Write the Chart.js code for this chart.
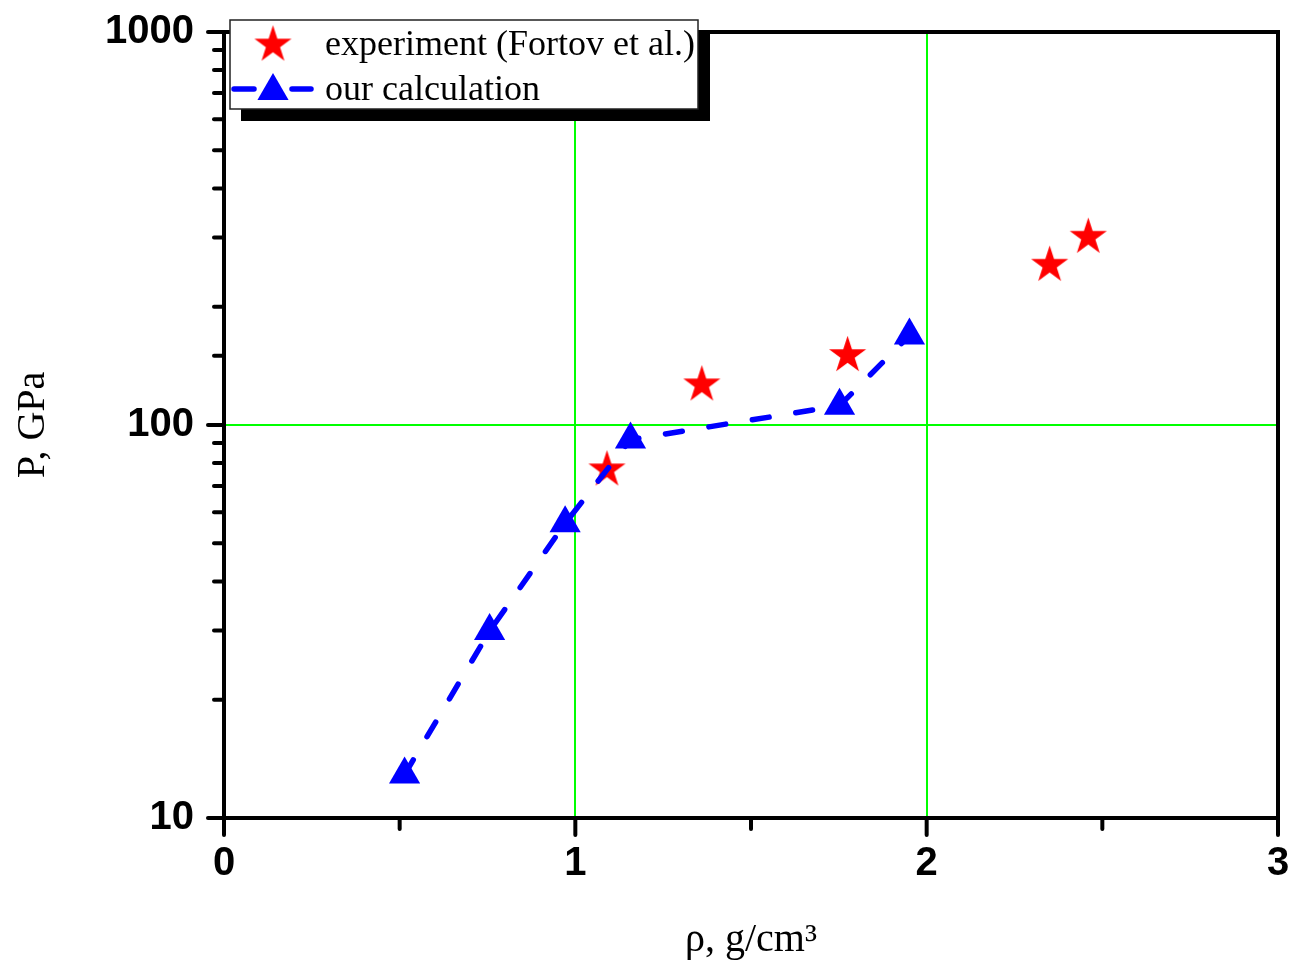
<!DOCTYPE html>
<html>
<head>
<meta charset="utf-8">
<script src="https://cdn.jsdelivr.net/npm/chart.js@4.4.1/dist/chart.umd.min.js"></script>
<style>
    html, body { margin: 0; padding: 0; background: #fff; }
    #wrap { width: 1296px; height: 972px; }
</style>
</head>
<body>
<div id="wrap"><canvas id="chart" width="1296" height="972"></canvas></div>
<script>
// data
const expDensity = [1.09, 1.36, 1.775, 2.35, 2.46];
const expPressure = [77.8, 128, 152, 258, 304];
const calcDensity = [0.514, 0.756, 0.971, 1.157, 1.752, 1.951];
const calcPressure = [12.9, 29.9, 56.2, 91.8, 112, 169];
const xLabelValues = [0, 1, 2, 3];
const yLabelValues = [10, 100, 1000];
const gridX = [1, 2];
const gridY = [100];

const expLabel = "experiment (Fortov et al.)";
const calcLabel = "our calculation";

function toPoints(xs, ys) {
    return xs.map((x, i) => ({ x: x, y: ys[i] }));
}

// filled five-point star used as the experiment marker
function makeStar(r, color) {
    const size = Math.ceil(r * 2) + 4;
    const c = document.createElement("canvas");
    c.width = size;
    c.height = size;
    const g = c.getContext("2d");
    const cx = size / 2;
    const cy = size / 2 + r * 0.0955;
    const inner = r * 0.382;
    g.beginPath();
    for (let i = 0; i < 10; i++) {
        const rad = i % 2 === 0 ? r : inner;
        const a = -Math.PI / 2 + (i * Math.PI) / 5;
        const px = cx + rad * Math.cos(a);
        const py = cy + rad * Math.sin(a);
        if (i === 0) g.moveTo(px, py);
        else g.lineTo(px, py);
    }
    g.closePath();
    g.fillStyle = color;
    g.fill();
    return c;
}

const starImg = makeStar(19.5, "#ff0000");

const frameAndTicks = {
    id: "frameAndTicks",
    afterDatasetsDraw(chart) {
        const { ctx, chartArea: a } = chart;
        ctx.save();
        ctx.strokeStyle = "#000";
        ctx.lineWidth = 4;
        ctx.lineCap = "round";

        const xs = chart.scales.x;
        xs.ticks.forEach((t) => {
            const p = xs.getPixelForValue(t.value);
            const len = t.label !== "" ? 17 : 11;
            ctx.beginPath();
            ctx.moveTo(p, a.bottom);
            ctx.lineTo(p, a.bottom + len);
            ctx.stroke();
        });

        const ys = chart.scales.y;
        ys.ticks.forEach((t) => {
            const p = ys.getPixelForValue(t.value);
            const len = t.label !== "" ? 16 : 10;
            ctx.beginPath();
            ctx.moveTo(a.left, p);
            ctx.lineTo(a.left - len, p);
            ctx.stroke();
        });

        ctx.lineCap = "square";
        ctx.strokeRect(a.left, a.top, a.right - a.left, a.bottom - a.top);
        ctx.restore();
    },
};

const boxLegend = {
    id: "boxLegend",
    afterDraw(chart) {
        const ctx = chart.ctx;
        const bx = 230, by = 20, bw = 468, bh = 89;
        ctx.save();
        ctx.fillStyle = "#000";
        ctx.fillRect(bx + 11, by + 11, bw + 1, bh + 1);
        ctx.fillStyle = "#fff";
        ctx.fillRect(bx, by, bw, bh);
        ctx.strokeStyle = "#222";
        ctx.lineWidth = 1.5;
        ctx.strokeRect(bx, by, bw, bh);

        ctx.drawImage(starImg, 273 - starImg.width / 2, 43 - starImg.height / 2);

        ctx.strokeStyle = "#0000ff";
        ctx.lineWidth = 5.5;
        ctx.lineCap = "round";
        ctx.beginPath();
        ctx.moveTo(234, 89);
        ctx.lineTo(254, 89);
        ctx.moveTo(292, 89);
        ctx.lineTo(311, 89);
        ctx.stroke();

        const r = 18, tx = 273, ty = 91;
        ctx.fillStyle = "#0000ff";
        ctx.beginPath();
        ctx.moveTo(tx, ty - r);
        ctx.lineTo(tx + r * Math.sin(Math.PI / 3), ty + r / 2);
        ctx.lineTo(tx - r * Math.sin(Math.PI / 3), ty + r / 2);
        ctx.closePath();
        ctx.fill();

        ctx.fillStyle = "#000";
        ctx.font = '36px "Liberation Serif", "Times New Roman", serif';
        ctx.textBaseline = "alphabetic";
        ctx.fillText(chart.data.datasets[0].label, 325, 55);
        ctx.fillText(chart.data.datasets[1].label, 325, 100);
        ctx.restore();
    },
};

const tickFont = { family: '"Liberation Sans", Arial, sans-serif', size: 40, weight: "bold" };
const titleFont = { family: '"Liberation Serif", "Times New Roman", serif', size: 40 };

new Chart(document.getElementById("chart"), {
    type: "scatter",
    data: {
        datasets: [
            {
                label: expLabel,
                data: toPoints(expDensity, expPressure),
                showLine: false,
                pointStyle: starImg,
                order: 2,
            },
            {
                label: calcLabel,
                data: toPoints(calcDensity, calcPressure),
                showLine: true,
                borderColor: "#0000ff",
                borderWidth: 5.5,
                borderDash: [17, 27],
                borderCapStyle: "round",
                pointStyle: "triangle",
                pointRadius: 18,
                pointBackgroundColor: "#0000ff",
                pointBorderWidth: 0,
                order: 1,
            },
        ],
    },
    options: {
        responsive: false,
        animation: false,
        devicePixelRatio: 1,
        layout: { padding: { top: 32, right: 14, left: 0, bottom: 0 } },
        plugins: {
            legend: { display: false },
            tooltip: { enabled: false },
        },
        scales: {
            x: {
                type: "linear",
                min: 0,
                max: 3,
                afterFit(scale) {
                    scale.height = 154;
                    scale.paddingLeft = 0;
                    scale.paddingRight = 0;
                },
                border: { display: false },
                grid: {
                    drawTicks: false,
                    lineWidth: 2,
                    color: (c) => (c.tick && gridX.includes(c.tick.value) ? "#00ff00" : "rgba(0,0,0,0)"),
                },
                ticks: {
                    stepSize: 0.5,
                    autoSkip: false,
                    maxRotation: 0,
                    padding: 22,
                    color: "#000",
                    font: tickFont,
                    callback: (v) => (xLabelValues.includes(v) ? String(v) : ""),
                },
                title: {
                    display: true,
                    text: "ρ, g/cm³",
                    color: "#000",
                    font: titleFont,
                    padding: { top: 0, bottom: 8 },
                },
            },
            y: {
                type: "logarithmic",
                min: 10,
                max: 1000,
                afterFit(scale) {
                    scale.width = 224;
                    scale.paddingTop = 0;
                    scale.paddingBottom = 0;
                },
                border: { display: false },
                grid: {
                    drawTicks: false,
                    lineWidth: 2,
                    color: (c) => (c.tick && gridY.includes(c.tick.value) ? "#00ff00" : "rgba(0,0,0,0)"),
                },
                ticks: {
                    autoSkip: false,
                    padding: 30,
                    color: "#000",
                    font: tickFont,
                    callback: (v) => (yLabelValues.includes(v) ? String(v) : ""),
                },
                title: {
                    display: true,
                    text: "P, GPa",
                    color: "#000",
                    font: titleFont,
                    padding: { top: 9, bottom: 0 },
                },
            },
        },
    },
    plugins: [frameAndTicks, boxLegend],
});
</script>
</body>
</html>
